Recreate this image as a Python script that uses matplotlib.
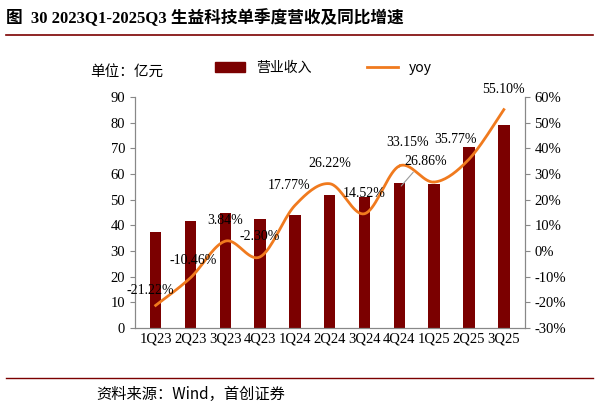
import numpy as np
import matplotlib
matplotlib.use("Agg")
import matplotlib.pyplot as plt
from matplotlib.lines import Line2D

plt.rcParams['font.family'] = ['Liberation Serif', 'Noto Sans CJK SC']

quarters = ["1Q23", "2Q23", "3Q23", "4Q23", "1Q24", "2Q24", "3Q24", "4Q24", "1Q25", "2Q25", "3Q25"]
revenue = [37.5, 41.5, 44.8, 42.5, 44.2, 52.0, 51.0, 56.5, 56.2, 70.5, 79.2]
yoy = [-21.22, -10.46, 3.84, -2.30, 17.77, 26.22, 14.52, 33.15, 26.86, 35.77, 55.10]
labels = ["-21.22%", "-10.46%", "3.84%", "-2.30%", "17.77%", "26.22%", "14.52%", "33.15%", "26.86%", "35.77%", "55.10%"]
# label offsets (points)
offs = [(-4, 8), (2, 10), (0, 12), (0, 12), (-4, 12), (0, 12), (0, 12), (6, 14), (-6, 12), (-10, 12), (0, 12)]

fig = plt.figure(figsize=(5.99, 4.13), dpi=100)
ax = fig.add_axes([0.225, 0.206, 0.651, 0.559])
x = np.arange(len(quarters))
ax.bar(x, revenue, width=0.33, color="#7B0000", zorder=2)
ax.set_ylim(0, 90)
ax.set_yticks(range(0, 91, 10))
ax.set_xlim(-0.6, len(quarters) - 0.4)
ax.set_xticks(x)
ax.set_xticklabels(quarters)

ax2 = ax.twinx()
ax2.set_ylim(-30, 60)
ax2.set_yticks(range(-30, 61, 10))
ax2.set_yticklabels([f"{v}%" for v in range(-30, 61, 10)])

# smooth curve through points (Catmull-Rom)
pts = np.column_stack([x, yoy]).astype(float)
P = np.vstack([pts[0], pts, pts[-1]])
xs, ys = [], []
for i in range(1, len(P) - 2):
    t = np.linspace(0, 1, 20)[:, None]
    p0, p1, p2, p3 = P[i - 1], P[i], P[i + 1], P[i + 2]
    c = 0.5 * ((2 * p1) + (-p0 + p2) * t + (2 * p0 - 5 * p1 + 4 * p2 - p3) * t**2 + (-p0 + 3 * p1 - 3 * p2 + p3) * t**3)
    xs.extend(c[:, 0]); ys.extend(c[:, 1])
ax2.plot(xs, ys, color="#F07A1E", lw=2, zorder=3)
for xi, yi, lab, o in zip(x, yoy, labels, offs):
    ax2.annotate(lab, (xi, yi), xytext=o, textcoords="offset points", ha="center", fontsize=10)
ax2.annotate("", (7, 24.5), xytext=(7.45, 31.5), arrowprops=dict(arrowstyle="-", color="#999999", lw=0.8))

for a in (ax, ax2):
    a.spines["top"].set_visible(False)
    for s in ("left", "right", "bottom"):
        a.spines[s].set_color("#888888")
    a.tick_params(labelsize=10.5, color="#888888")
ax.tick_params(axis="x", length=0)

handles = [plt.Rectangle((0, 0), 1, 1, color="#7B0000"), Line2D([], [], color="#F07A1E", lw=2)]
fig.legend(handles, ["营业收入", "yoy"], loc="center", bbox_to_anchor=(0.54, 0.835), ncol=2, frameon=False,
           handlelength=2.2, columnspacing=4,
           prop={'family': ['Noto Sans CJK SC'], 'size': 10})
fig.text(0.15, 0.825, "单位：亿元", fontsize=10.5, family=['Noto Sans CJK SC'], va="center")

fig.text(0.01, 0.955, "图  30 2023Q1-2025Q3 生益科技单季度营收及同比增速", fontsize=12, fontweight="bold", va="center",
         family=['Liberation Serif', 'Noto Sans CJK SC'])
fig.add_artist(Line2D([0.01, 0.99], [0.915, 0.915], color="#7B0000", lw=1.2))
fig.add_artist(Line2D([0.01, 0.99], [0.085, 0.085], color="#7B0000", lw=1.0))
fig.text(0.16, 0.045, "资料来源：Wind，首创证券", fontsize=11, style="italic", va="center",
         family=['Noto Sans CJK SC', 'Liberation Serif'])

fig.savefig("out.png", dpi=100)
